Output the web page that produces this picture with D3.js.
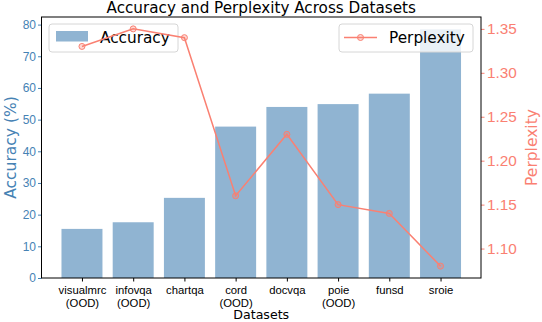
<!DOCTYPE html>
<html>
<head>
<meta charset="utf-8">
<script src="https://cdn.jsdelivr.net/npm/d3@7"></script>
<style>
  body { margin: 0; background: #fff; }
  svg { display: block; font-family: "DejaVu Sans", sans-serif; }
</style>
</head>
<body>
<svg id="chart" width="542" height="322"></svg>
<script>
// Chart values.
const datasets = ["visualmrc", "infovqa", "chartqa", "cord", "docvqa", "poie", "funsd", "sroie"];
const oodFlags = [true, true, false, true, false, true, false, false];
const accuracy = [15.5, 17.6, 25.3, 47.8, 54.0, 54.9, 58.2, 78.5];
const perplexity = [1.33, 1.35, 1.34, 1.16, 1.23, 1.15, 1.14, 1.08];
const accTicks = [0, 10, 20, 30, 40, 50, 60, 70, 80];
const pplTicks = [1.10, 1.15, 1.20, 1.25, 1.30, 1.35];

const BLUE = "#4682b4", SALMON = "#fa8072";

const svg = d3.select("#chart"),
    margin = { left: 41.5, right: 61, top: 17, bottom: 44 },
    W = +svg.attr("width"),
    H = +svg.attr("height"),
    x0 = margin.left, x1 = W - margin.right,
    y0 = H - margin.bottom, y1 = margin.top;

// Bars sit at integer positions with width 0.8, like matplotlib does it.
const x = d3.scaleLinear().domain([-0.79, 7.79]).range([x0, x1]);
const yAcc = d3.scaleLinear().domain([0, 82.4]).range([y0, y1]);
const yPpl = d3.scaleLinear().domain([1.0665, 1.3635]).range([y0, y1]);

// Bars
svg.append("g")
    .selectAll("rect")
    .data(accuracy)
    .enter()
    .append("rect")
    .attr("x", (d, i) => x(i - 0.4))
    .attr("width", x(0.4) - x(-0.4))
    .attr("y", (d) => yAcc(d))
    .attr("height", (d) => yAcc(0) - yAcc(d))
    .attr("fill", BLUE)
    .attr("fill-opacity", 0.6);

// Left axis (accuracy)
const leftAxis = svg.append("g")
    .attr("transform", `translate(${x0},0)`)
    .call(d3.axisLeft(yAcc).tickValues(accTicks).tickSize(3.5).tickPadding(2).tickFormat(d3.format("d")));
leftAxis.select(".domain").remove();
leftAxis.selectAll("line").attr("stroke", BLUE);
leftAxis.selectAll("text").attr("fill", BLUE).style("font-size", "12px");

svg.append("text")
    .attr("transform", `translate(11,${(y0 + y1) / 2}) rotate(-90)`)
    .attr("text-anchor", "middle")
    .attr("dominant-baseline", "middle")
    .attr("fill", BLUE)
    .style("font-size", "15.5px")
    .text("Accuracy (%)");

// Bottom axis
const bottomAxis = svg.append("g")
    .attr("transform", `translate(0,${y0})`)
    .call(d3.axisBottom(x).tickValues(d3.range(datasets.length)).tickSize(3.5).tickFormat(""));
bottomAxis.select(".domain").remove();
bottomAxis.selectAll("line").attr("stroke", "#000");

bottomAxis.selectAll(".tick")
    .each(function(d) {
        const t = d3.select(this).append("text")
            .attr("fill", "#000")
            .attr("text-anchor", "middle")
            .style("font-size", "11.3px");
        t.append("tspan").attr("x", 0).attr("y", 15.5).text(datasets[d]);
        if (oodFlags[d]) t.append("tspan").attr("x", 0).attr("y", 28.5).text("(OOD)");
    });

svg.append("text")
    .attr("x", (x0 + x1) / 2)
    .attr("y", 319)
    .attr("text-anchor", "middle")
    .style("font-size", "12.6px")
    .text("Datasets");

// Left legend (belongs to the bar axis, so the line is drawn over it)
const legL = svg.append("g");
legL.append("rect")
    .attr("x", 49).attr("y", 24).attr("width", 129).attr("height", 28)
    .attr("rx", 3)
    .attr("fill", "#fff").attr("fill-opacity", 0.8)
    .attr("stroke", "#d6d6d6");
legL.append("rect")
    .attr("x", 56).attr("y", 31).attr("width", 32).attr("height", 10.5)
    .attr("fill", BLUE).attr("fill-opacity", 0.6);
legL.append("text")
    .attr("x", 100).attr("y", 42.5)
    .style("font-size", "15.3px")
    .text("Accuracy");

// Perplexity line and markers
const line = d3.line()
    .x((d, i) => x(i))
    .y((d) => yPpl(d));

svg.append("path")
    .datum(perplexity)
    .attr("d", line)
    .attr("fill", "none")
    .attr("stroke", SALMON)
    .attr("stroke-width", 1.5);

svg.append("g")
    .selectAll("circle")
    .data(perplexity)
    .enter()
    .append("circle")
    .attr("cx", (d, i) => x(i))
    .attr("cy", (d) => yPpl(d))
    .attr("r", 3)
    .attr("fill", SALMON)
    .attr("fill-opacity", 0.3)
    .attr("stroke", SALMON)
    .attr("stroke-width", 1);

// Right axis (perplexity)
const rightAxis = svg.append("g")
    .attr("transform", `translate(${x1},0)`)
    .call(d3.axisRight(yPpl).tickValues(pplTicks).tickSize(3.5).tickPadding(2.5).tickFormat(d3.format(".2f")));
rightAxis.select(".domain").remove();
rightAxis.selectAll("line").attr("stroke", SALMON);
rightAxis.selectAll("text").attr("fill", SALMON).style("font-size", "15.3px");

svg.append("text")
    .attr("transform", `translate(532,${(y0 + y1) / 2}) rotate(-90)`)
    .attr("text-anchor", "middle")
    .attr("dominant-baseline", "middle")
    .attr("fill", SALMON)
    .style("font-size", "15.5px")
    .text("Perplexity");

// Frame
svg.append("rect")
    .attr("x", x0).attr("y", y1)
    .attr("width", x1 - x0).attr("height", y0 - y1)
    .attr("fill", "none")
    .attr("stroke", "#000")
    .attr("stroke-width", 1);

// Right legend (on top of everything)
const legR = svg.append("g");
legR.append("rect")
    .attr("x", 339).attr("y", 24).attr("width", 134).attr("height", 28)
    .attr("rx", 3)
    .attr("fill", "#fff").attr("fill-opacity", 0.8)
    .attr("stroke", "#d6d6d6");
legR.append("line")
    .attr("x1", 344).attr("x2", 377).attr("y1", 37.5).attr("y2", 37.5)
    .attr("stroke", SALMON).attr("stroke-width", 1.5);
legR.append("circle")
    .attr("cx", 360.5).attr("cy", 37.5).attr("r", 3)
    .attr("fill", SALMON).attr("fill-opacity", 0.3)
    .attr("stroke", SALMON);
legR.append("text")
    .attr("x", 389).attr("y", 43)
    .style("font-size", "15.3px")
    .text("Perplexity");

// Title
svg.append("text")
    .attr("x", (x0 + x1) / 2)
    .attr("y", 13)
    .attr("text-anchor", "middle")
    .style("font-size", "15.2px")
    .text("Accuracy and Perplexity Across Datasets");
</script>
</body>
</html>
